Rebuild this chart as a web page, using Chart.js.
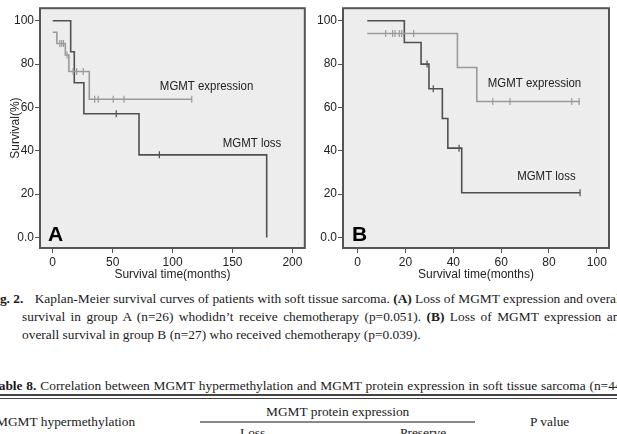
<!DOCTYPE html>
<html>
<head>
<meta charset="utf-8">
<script src="https://cdn.jsdelivr.net/npm/chart.js@4.4.1/dist/chart.umd.min.js"></script>
<style>
  html, body { margin: 0; padding: 0; background: #fff; }
  body { width: 617px; height: 434px; position: relative; overflow: hidden; }
  canvas { position: absolute; top: 0; }
  #panelA { left: 0; }
  #panelB { left: 305px; }
  .txt { position: absolute; white-space: nowrap; font-family: 'Liberation Serif', 'Times New Roman', serif;
         font-size: 13.4px; line-height: 18px; color: #1a1a1a; }
  .rule { position: absolute; background: #444; }
</style>
</head>
<body>
<canvas id="panelA" width="310" height="290"></canvas>
<canvas id="panelB" width="312" height="290"></canvas>

<div class="txt" style="top:290px;left:-12px;"><b style="margin-right:8px">Fig. 2.</b> Kaplan-Meier survival curves of patients with soft tissue sarcoma. <b>(A)</b> Loss of MGMT expression and overall</div>
<div class="txt" style="top:308px;left:22px;word-spacing:2.1px;">survival in group A (n=26) whodidn’t receive chemotherapy (p=0.051). <b>(B)</b> Loss of MGMT expression and</div>
<div class="txt" style="top:326px;left:22px;">overall survival in group B (n=27) who received chemotherapy (p=0.039).</div>

<div class="txt" style="top:377px;left:-9px;word-spacing:0.5px;"><b>Table 8.</b> Correlation between MGMT hypermethylation and MGMT protein expression in soft tissue sarcoma (n=44)</div>
<div class="rule" style="top:394px;left:0;width:617px;height:2px;"></div>
<div class="rule" style="top:398px;left:0;width:617px;height:1px;"></div>
<div class="txt" style="top:403px;left:266px;">MGMT protein expression</div>
<div class="rule" style="top:421px;left:200px;width:275px;height:2px;background:#888;"></div>
<div class="txt" style="top:413px;left:-4px;">MGMT hypermethylation</div>
<div class="txt" style="top:413px;left:530px;">P value</div>
<div class="txt" style="top:424px;left:240px;">Loss</div>
<div class="txt" style="top:424px;left:400px;">Preserve</div>

<script>
// Kaplan-Meier curves, MGMT loss vs expression

// Panel A: no chemotherapy
const aLossTimes = [0, 15, 18, 26, 72, 178.5];
const aLossSurv = [100, 85.7, 71.4, 57.1, 38.1, 0];
const aLossCensor = [53, 89];
const aExprTimes = [0, 3.5, 10.5, 13.5, 30.5, 116];
const aExprSurv = [94.7, 89.5, 84.2, 76.6, 63.8, 63.8];
const aExprCensor = [6, 7.5, 9, 12, 17, 20, 25.5, 35, 38, 50.5, 59.5, 116];

// Panel B: chemotherapy
const bLossTimes = [4, 19.5, 26.5, 29.8, 35.4, 37.7, 43.5, 93];
const bLossSurv = [100, 90, 80, 68.6, 54.9, 41.2, 20.6, 20.6];
const bLossCensor = [29, 31.6, 42.4, 93];
const bExprTimes = [4, 41.7, 49.8, 93];
const bExprSurv = [94.1, 78.4, 62.7, 62.7];
const bExprCensor = [11.7, 14.6, 15.6, 17.4, 18.4, 23.4, 56.5, 63.7, 89.5, 92.6];

// Axis ticks
const aXTicks = [0, 50, 100, 150, 200];
const bXTicks = [0, 20, 40, 60, 80, 100];
const yTicks = [0, 20, 40, 60, 80, 100];

const LOSS_COLOR = '#505050';
const EXPR_COLOR = '#9a9a9a';
const TEXT_COLOR = '#222';

// survival level of a step curve at time t
function survAt(times, surv, t) {
  let s = surv[0];
  for (let i = 0; i < times.length; i++) {
    if (times[i] <= t) s = surv[i];
  }
  return s;
}

function curve(times, surv, color) {
  return {
    data: times.map((t, i) => ({ x: t, y: surv[i] })),
    borderColor: color,
    borderWidth: 1.6,
    stepped: true,
    pointRadius: 0,
    fill: false
  };
}

function censors(cens, times, surv, color) {
  return {
    data: cens.map(t => ({ x: t, y: survAt(times, surv, t) })),
    showLine: false,
    pointStyle: 'line',
    rotation: 90,
    pointRadius: 3.5,
    borderColor: color,
    borderWidth: 1.2
  };
}

// plot background, frame and in-plot labels
const kmFrame = {
  id: 'kmFrame',
  beforeDraw(chart) {
    const { ctx, chartArea: a } = chart;
    ctx.save();
    ctx.fillStyle = '#ededed';
    ctx.fillRect(a.left, a.top, a.width, a.height);
    ctx.restore();
  },
  afterDraw(chart, args, opts) {
    const { ctx, chartArea: a, scales } = chart;
    ctx.save();
    ctx.strokeStyle = '#555';
    ctx.lineWidth = 2;
    ctx.strokeRect(a.left, a.top, a.width, a.height);
    (opts.labels || []).forEach(l => {
      const px = scales.x.getPixelForValue(l.x);
      const py = scales.y.getPixelForValue(l.y);
      ctx.save();
      ctx.translate(px, py);
      ctx.scale(l.squeeze || 1, 1);
      ctx.fillStyle = l.color || TEXT_COLOR;
      ctx.font = l.font;
      ctx.textBaseline = 'middle';
      ctx.textAlign = 'left';
      ctx.fillText(l.text, 0, 0);
      ctx.restore();
    });
    ctx.restore();
  }
};

function makePanel(id, cfg) {
  const ctx = document.getElementById(id);
  return new Chart(ctx, {
    type: 'line',
    data: {
      datasets: [
        curve(cfg.exprTimes, cfg.exprSurv, EXPR_COLOR),
        censors(cfg.exprCensor, cfg.exprTimes, cfg.exprSurv, EXPR_COLOR),
        curve(cfg.lossTimes, cfg.lossSurv, LOSS_COLOR),
        censors(cfg.lossCensor, cfg.lossTimes, cfg.lossSurv, LOSS_COLOR)
      ]
    },
    options: {
      responsive: false,
      animation: false,
      layout: { padding: { left: 0, right: cfg.padRight, top: 1, bottom: 0 } },
      plugins: {
        legend: { display: false },
        tooltip: { enabled: false },
        kmFrame: { labels: cfg.labels }
      },
      scales: {
        x: {
          type: 'linear',
          min: cfg.xMin,
          max: cfg.xMax,
          afterBuildTicks: s => { s.ticks = cfg.xTicks.map(v => ({ value: v })); },
          afterFit: s => { s.height = 42; },
          grid: { drawOnChartArea: false, drawTicks: true, tickLength: 5, color: '#555' },
          border: { display: false },
          ticks: { padding: 2, color: TEXT_COLOR, font: { family: 'Liberation Sans', size: 12 } },
          title: {
            display: true,
            text: 'Survival time(months)',
            color: TEXT_COLOR,
            font: { family: 'Liberation Sans', size: 12 },
            padding: { top: 0, bottom: 8 }
          }
        },
        y: {
          type: 'linear',
          min: -4.9,
          max: 105.8,
          afterBuildTicks: s => { s.ticks = yTicks.map(v => ({ value: v })); },
          afterFit: s => { s.width = cfg.yWidth; },
          grid: { drawOnChartArea: false, drawTicks: true, tickLength: 5, color: '#555' },
          border: { display: false },
          ticks: {
            padding: 1,
            color: TEXT_COLOR,
            font: { family: 'Liberation Sans', size: 12 },
            callback: v => (v === 0 ? '0.0' : String(v))
          },
          title: {
            display: cfg.yTitle,
            text: 'Survival(%)',
            color: TEXT_COLOR,
            font: { family: 'Liberation Sans', size: 12 },
            padding: { top: 8, bottom: 0 }
          }
        }
      }
    },
    plugins: [kmFrame]
  });
}

makePanel('panelA', {
  lossTimes: aLossTimes, lossSurv: aLossSurv, lossCensor: aLossCensor,
  exprTimes: aExprTimes, exprSurv: aExprSurv, exprCensor: aExprCensor,
  xTicks: aXTicks, xMin: -10.6, xMax: 210.3,
  yWidth: 40, padRight: 5, yTitle: true,
  labels: [
    { text: 'MGMT expression', x: 89.4, y: 69.5, font: "13px 'Liberation Sans'", squeeze: 0.88 },
    { text: 'MGMT loss', x: 141.9, y: 43.5, font: "13px 'Liberation Sans'", squeeze: 0.88 },
    { text: 'A', x: -3.9, y: 0.9, font: "bold 21px 'Liberation Sans'", color: '#000' }
  ]
});

makePanel('panelB', {
  lossTimes: bLossTimes, lossSurv: bLossSurv, lossCensor: bLossCensor,
  exprTimes: bExprTimes, exprSurv: bExprSurv, exprCensor: bExprCensor,
  xTicks: bXTicks, xMin: -6.15, xMax: 105.1,
  yWidth: 38, padRight: 8, yTitle: false,
  labels: [
    { text: 'MGMT expression', x: 54.4, y: 71.3, font: "13px 'Liberation Sans'", squeeze: 0.88 },
    { text: 'MGMT loss', x: 66.7, y: 28.3, font: "13px 'Liberation Sans'", squeeze: 0.88 },
    { text: 'B', x: -2.4, y: 0.9, font: "bold 21px 'Liberation Sans'", color: '#000' }
  ]
});
</script>
</body>
</html>
